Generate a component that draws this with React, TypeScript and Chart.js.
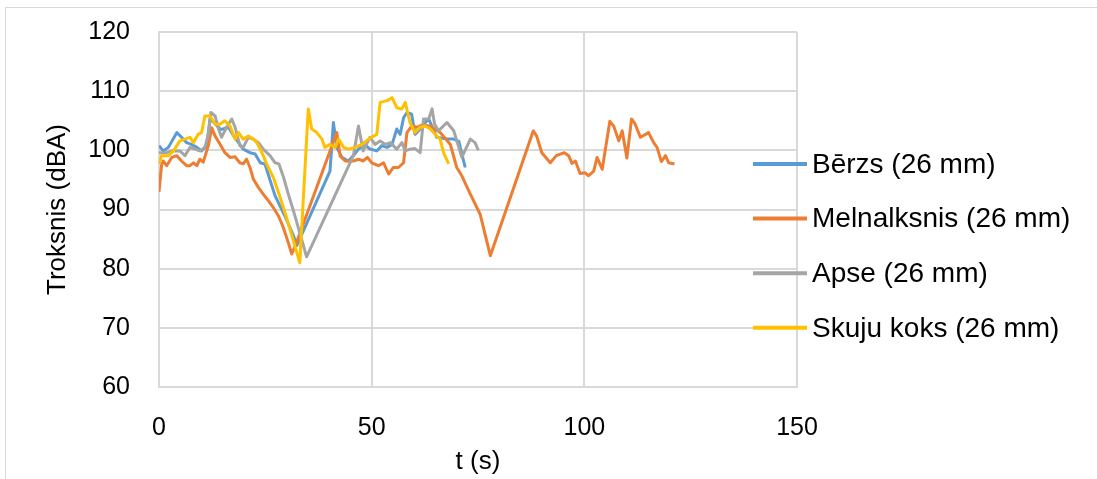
import { useEffect, useRef } from "react";
import { Chart, registerables } from "chart.js";

Chart.register(...registerables);

// Series names and colours
const seriesNames = ["Bērzs (26 mm)", "Melnalksnis (26 mm)", "Apse (26 mm)", "Skuju koks (26 mm)"];
const seriesColors = ["#5B9BD5", "#ED7D31", "#A5A5A5", "#FFC000"];

// Axis ticks
const xTicks = [0, 50, 100, 150];
const yTicks = [60, 70, 80, 90, 100, 110, 120];

// Bērzs: time (s) and noise level (dBA)
const berzsT = [0, 1, 2.2, 4.2, 5.3, 6.5, 7.6, 8.9, 10, 11.2, 12, 13.2, 14.5, 16.3, 17.5, 18.7, 19.8, 21.4, 22.6, 23.8, 24.9, 27.3, 29.6, 31.6, 32.4, 40.2, 41, 41.8, 43, 44.5, 45.7, 47, 48.5, 49.7, 51.2, 52.4, 53.6, 54.8, 55.9, 56.7, 57.5, 58.3, 59.4, 60.2, 61.4, 62.6, 63.4, 65.3, 67.7, 69.3, 70.5, 71.2, 72];
const berzsDb = [100.8, 99.9, 100.5, 103, 102.2, 101.3, 101, 100.5, 99.9, 100.8, 105.3, 104.5, 103.5, 103.9, 102.5, 101.3, 100.2, 99.6, 99.4, 97.9, 97.7, 92.3, 88.9, 85.6, 83.9, 96.5, 104.7, 100.5, 98.8, 98.2, 99.1, 100.3, 100.8, 100.2, 99.9, 100.8, 100.5, 101, 103.6, 102.7, 105.5, 106.4, 106.1, 102.7, 103.6, 104.7, 105.3, 102.2, 101.9, 101.9, 101.5, 99.4, 97.1];

// Melnalksnis
const melnT = [0, 0.6, 1, 1.8, 3, 4.2, 5.3, 6.5, 7.3, 8.1, 8.9, 9.6, 10.4, 11.6, 12.4, 13.2, 14.4, 15.5, 16.7, 17.9, 19, 19.8, 20.6, 21.4, 22.2, 23.4, 24.5, 25.7, 26.9, 28.1, 29.2, 30.4, 31.2, 32, 41.8, 42.6, 43.8, 45.7, 46.9, 48, 49, 50, 51.6, 52.8, 54, 55.1, 56.3, 57.5, 58.3, 59.4, 60.6, 62.2, 64.2, 66.1, 66.5, 68.5, 70, 71.2, 73.2, 75.5, 77.9, 88, 88.8, 90, 92, 93.4, 95.3, 96.3, 97.1, 97.9, 99, 100.2, 101, 102.2, 103, 104.2, 106, 106.9, 108.1, 108.9, 110, 111.1, 111.9, 113.2, 115.1, 116.3, 117.1, 118.1, 119.1, 119.8, 121.2];
const melnDb = [93, 97.5, 98.2, 97.4, 98.8, 99.1, 98.2, 97.4, 97.4, 97.9, 97.4, 98.5, 98, 100.8, 103.8, 102.4, 101, 99.6, 98.8, 98.9, 97.9, 97.7, 98.5, 97.1, 95.1, 93.7, 92.6, 91.5, 90.3, 88.9, 87, 84.4, 82.5, 83.8, 103, 99, 98.2, 98.2, 98.5, 98.2, 98.8, 97.9, 97.4, 97.9, 96, 97.1, 97.1, 97.9, 103, 104.1, 103.9, 104.4, 103.9, 103, 102.7, 101, 97.1, 95.7, 92.6, 89.2, 82.2, 103.3, 102.4, 99.6, 97.9, 99.1, 99.6, 99.1, 97.8, 98.2, 96.1, 96.2, 95.7, 96.5, 98.8, 96.8, 104.9, 104.1, 101.6, 103.3, 98.7, 105.3, 104.5, 102.2, 103, 101.3, 100.5, 98.1, 99.1, 97.9, 97.7];

// Apse
const apseT = [0, 1.8, 3, 4.9, 6.1, 7.3, 8.5, 9.6, 10.8, 11.6, 12.2, 13.2, 14, 14.7, 15.9, 17.1, 17.9, 19, 19.8, 21, 22.1, 23.4, 24.5, 26.1, 27.3, 28.2, 29.3, 30.4, 31.6, 33.2, 34.7, 45.7, 46.9, 48, 49.6, 50.8, 52, 53.2, 54.4, 55.9, 57.1, 57.9, 59, 60.2, 61.4, 62.2, 63.4, 64.2, 64.8, 65.7, 67.7, 69.3, 71.2, 73.2, 74.3, 75.1];
const apseDb = [99.6, 99.6, 99.9, 99.9, 99.1, 100.5, 100.2, 99.9, 100.5, 102.7, 106.4, 105.8, 103.6, 102.2, 103.9, 105.3, 103.9, 100.8, 100.5, 102.2, 101.9, 101.3, 100.2, 99.1, 97.9, 97.7, 95.4, 92.6, 89.8, 85.8, 82, 99.1, 104.1, 99.9, 102.2, 101, 101.6, 101, 101.3, 100.2, 101.3, 99.9, 100.2, 100.3, 99.6, 105.3, 105.3, 107, 104.4, 103.3, 104.7, 103.3, 98.8, 101.9, 101.3, 100];

// Skuju koks
const skujuT = [0, 0.6, 2.2, 3.4, 4.9, 6.1, 7.3, 8.1, 9.2, 10, 10.8, 12, 13.2, 14.3, 15.5, 16.7, 17.9, 18.7, 19.8, 21, 22.2, 23, 24.2, 25.3, 26.9, 28.5, 30, 31.6, 33.1, 35.1, 35.9, 37.1, 38.3, 39, 40.2, 41.4, 42.2, 43.4, 44.5, 46.1, 47.7, 49.3, 50, 51.2, 52, 53.6, 54.8, 55.9, 57.1, 57.9, 59, 60.2, 61.4, 62.6, 63.8, 64.9, 66.1, 66.9, 68.1];
const skujuDb = [97.7, 99.1, 99.1, 99.9, 101.6, 101.9, 102.2, 101.3, 102.7, 103, 105.8, 105.8, 104.4, 104.4, 105, 104.1, 101.9, 103, 101.9, 102.4, 101.9, 101.3, 99.6, 97.7, 95.4, 92, 88.6, 84.7, 81, 107, 103.6, 103, 101.9, 100.5, 101, 100.5, 101.9, 100.5, 100.2, 100.5, 101, 101.9, 102.2, 102.7, 108.1, 108.4, 108.9, 107.2, 107, 108.1, 104.7, 103, 103.9, 104.1, 103.6, 102.7, 101.9, 99.6, 97.7];

const seriesT = [berzsT, melnT, apseT, skujuT];
const seriesDb = [berzsDb, melnDb, apseDb, skujuDb];

const FONT = "'Liberation Sans', Arial, sans-serif";
const GRID = "#d9d9d9";

// Legend drawn beside the plot area, each entry a short line plus its label
const sideLegend = {
  id: "sideLegend",
  afterDraw(chart: any) {
    const { ctx, chartArea } = chart;
    ctx.save();
    ctx.font = `28px ${FONT}`;
    ctx.textBaseline = "middle";
    ctx.textAlign = "left";
    const x0 = chartArea.right - 44;
    chart.data.datasets.forEach((ds: any, i: number) => {
      const y = 164 + i * 54.6;
      ctx.strokeStyle = ds.borderColor;
      ctx.lineWidth = 4;
      ctx.lineCap = "butt";
      ctx.beginPath();
      ctx.moveTo(x0, y);
      ctx.lineTo(x0 + 54, y);
      ctx.stroke();
      ctx.fillStyle = "#000";
      ctx.fillText(ds.label, x0 + 59, y + 1);
    });
    ctx.restore();
  },
};

export default function App() {
  const canvasRef = useRef<HTMLCanvasElement | null>(null);

  useEffect(() => {
    if (!canvasRef.current) return;
    const datasets = seriesNames.map((name, i) => ({
      label: name,
      data: seriesT[i].map((t, k) => ({ x: t, y: seriesDb[i][k] })),
      borderColor: seriesColors[i],
      backgroundColor: seriesColors[i],
      borderWidth: 3,
      borderJoinStyle: "round" as const,
      showLine: true,
      pointRadius: 0,
      tension: 0,
      order: seriesNames.length - i,
    }));

    const chart = new Chart(canvasRef.current, {
      type: "scatter",
      data: { datasets },
      plugins: [sideLegend],
      options: {
        animation: false,
        responsive: false,
        layout: { padding: { top: 32, right: 300, left: 0, bottom: 0 } },
        plugins: { legend: { display: false }, tooltip: { enabled: false } },
        scales: {
          x: {
            type: "linear",
            min: xTicks[0],
            max: xTicks[xTicks.length - 1],
            afterBuildTicks: (s: any) => {
              s.ticks = xTicks.map((v) => ({ value: v }));
            },
            afterFit: (s: any) => {
              s.height = 92;
              s.paddingLeft = 0;
              s.paddingRight = 0;
            },
            ticks: { color: "#000", font: { family: FONT, size: 25 }, padding: 26 },
            grid: { color: GRID, lineWidth: 2, drawTicks: false },
            border: { color: GRID, width: 2 },
            title: {
              display: true,
              text: "t (s)",
              color: "#000",
              font: { family: FONT, size: 26 },
              padding: { top: 0, bottom: 2 },
            },
          },
          y: {
            type: "linear",
            min: yTicks[0],
            max: yTicks[yTicks.length - 1],
            afterBuildTicks: (s: any) => {
              s.ticks = yTicks.map((v) => ({ value: v }));
            },
            afterFit: (s: any) => {
              s.width = 159;
              s.paddingTop = 0;
              s.paddingBottom = 0;
            },
            ticks: { color: "#000", font: { family: FONT, size: 25 }, padding: 29 },
            grid: { color: GRID, lineWidth: 2, drawTicks: false },
            border: { color: GRID, width: 2 },
            title: {
              display: true,
              text: "Troksnis (dBA)",
              color: "#000",
              font: { family: FONT, size: 26 },
              padding: { top: 42, bottom: 0 },
            },
          },
        },
      },
    });
    return () => chart.destroy();
  }, []);

  return (
    <div style={{ position: "fixed", left: 0, top: 0, width: 1097, height: 479, background: "#fff", overflow: "hidden" }}>
      <div
        style={{
          position: "absolute",
          left: 5,
          top: 7,
          width: 1100,
          height: 480,
          border: `1px solid ${GRID}`,
        }}
      />
      <canvas ref={canvasRef} width={1097} height={479} style={{ position: "absolute", left: 0, top: 0 }} />
    </div>
  );
}
